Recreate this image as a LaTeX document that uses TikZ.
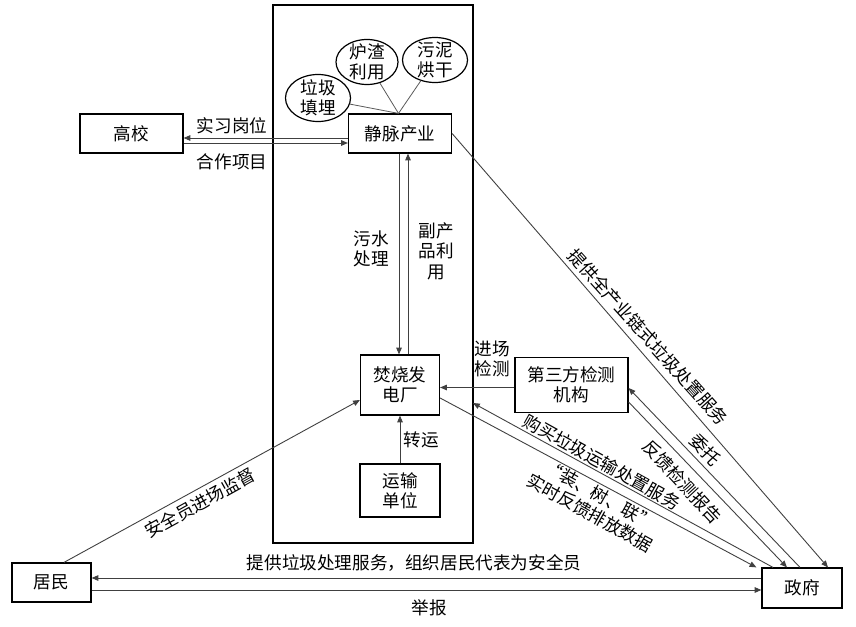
\documentclass[tikz,border=0pt]{standalone}
\usepackage{fontspec}
\setmainfont{Noto Sans CJK SC}
\usetikzlibrary{shapes.geometric, arrows.meta, positioning}
\newcommand{\cnfont}{\fontsize{8.8}{10.2}\selectfont}

\begin{document}
\begin{tikzpicture}[x=0.5pt,y=-0.5pt,
  box/.style={draw, line width=0.6pt, align=center, inner sep=1pt, font=\cnfont},
  bubble/.style={draw, ellipse, line width=0.6pt, inner sep=0pt},
  lbl/.style={align=center, inner sep=0pt, font=\cnfont},
  arr/.style={draw=black!75, line width=0.45pt, -{Triangle[length=3.4pt,width=2.8pt]}},
  thinline/.style={draw=black!65, line width=0.4pt}]
\useasboundingbox (0,0) rectangle (856,626);
\coordinate (QA) at (273,5);
\coordinate (QB) at (473,543);
\coordinate (QE) at (473,403);

\draw[line width=1pt] (QA) rectangle (QB);

\node[box, minimum width=51.5pt, minimum height=19.5pt] (gx) at (131.5,133.5) {高校};
\node[box, minimum width=51.5pt, minimum height=19.5pt] (jm) at (400,133.5) {静脉产业};
\node[box, minimum width=39.5pt, minimum height=30pt] (fs) at (400,385) {焚烧发\\电厂};
\node[box, minimum width=40pt, minimum height=26.5pt] (ys) at (400,490.5) {运输\\单位};
\node[box, minimum width=56.5pt, minimum height=27.5pt] (jc) at (571.5,385) {第三方检测\\机构};
\node[box, minimum width=40pt, minimum height=20pt] (zf) at (802,588) {政府};
\node[box, minimum width=39.5pt, minimum height=19.5pt] (jmin) at (51.5,582.5) {居民};

\node[bubble, minimum width=32.5pt, minimum height=23.5pt] (tm) at (318,98) {};
\node[bubble, minimum width=31pt, minimum height=22.5pt] (lz) at (367,62) {};
\node[bubble, minimum width=32.5pt, minimum height=22.5pt] (wn) at (435,60) {};
\node[lbl] (tmt) at (tm) {垃圾\\填埋};
\node[lbl] (lzt) at (lz) {炉渣\\利用};
\node[lbl] (wnt) at (wn) {污泥\\烘干};
\draw[thinline] (tm) -- ([xshift=-0.75pt]jm.north);
\draw[thinline] (lz) -- ([xshift=-0.75pt]jm.north);
\draw[thinline] (wn) -- ([xshift=-0.75pt]jm.north);

\draw[arr] ([yshift=-2.25pt]jm.west) -- ([yshift=-2.25pt]gx.east);
\draw[arr] ([yshift=-4.75pt]gx.east) -- ([yshift=-4.75pt]jm.west);
\node[lbl] (sxgw) at (232,126) {实习岗位};
\node[lbl] (hzxm) at (232,162) {合作项目};

\draw[arr] ([xshift=-0.5pt]jm.south) -- ([xshift=-0.5pt]fs.north);
\draw[arr] ([xshift=4pt]fs.north) -- ([xshift=4pt]jm.south);
\node[lbl] (wscl) at (371,249) {污水\\处理};
\node[lbl] (fcpl) at (436,251) {副产\\品利\\用};

\draw[arr] (ys.north) -- (fs.south);
\node[lbl] (zy) at (421,440) {转运};

\draw[arr] ([yshift=-1.25pt]jc.west) -- ([yshift=-1.25pt]fs.east);
\node[lbl] (jcjc) at (492,359) {进场\\检测};

\draw[arr] ([xshift=6.25pt]jmin.north) -- ([yshift=-7.5pt]fs.west);
\node[lbl, rotate=29] (aqy) at (200,503) {安全员进场监督};

\draw[arr] (jm.east) -- ([xshift=13pt]zf.north);
\node[lbl, rotate=-48] (qcy) at (648,337) {提供全产业链式垃圾处置服务};

\draw[arr] ([xshift=-1pt]zf.north) -- ([yshift=-1.5pt]jc.east);
\node[lbl, rotate=-47] (wt) at (705,450) {委托};
\draw[arr] ([yshift=-8.5pt]jc.east) -- ([xshift=-7.5pt]zf.north);
\node[lbl, rotate=-47] (fkbg) at (682,482) {反馈检测报告};

\draw[arr] ([xshift=-14.5pt]zf.north) -- (QE);
\node[lbl, rotate=-29] (gmfw) at (602,462) {购买垃圾运输处置服务};
\draw[arr] ([yshift=-6.5pt]fs.east) -- ([xshift=-2.5pt]zf.north west);
\node[lbl, rotate=-29] (pfsj) at (595,504) {“装、树、联”\\实时反馈排放数据};

\draw[arr] ([yshift=5pt]zf.west) -- ([yshift=2.25pt]jmin.east);
\draw[arr] ([yshift=-3.75pt]jmin.east) -- ([yshift=-1pt]zf.west);
\node[lbl] (tgfw) at (414,563) {提供垃圾处理服务，组织居民代表为安全员};
\node[lbl] (jb) at (429,608) {举报};
\end{tikzpicture}
\end{document}
